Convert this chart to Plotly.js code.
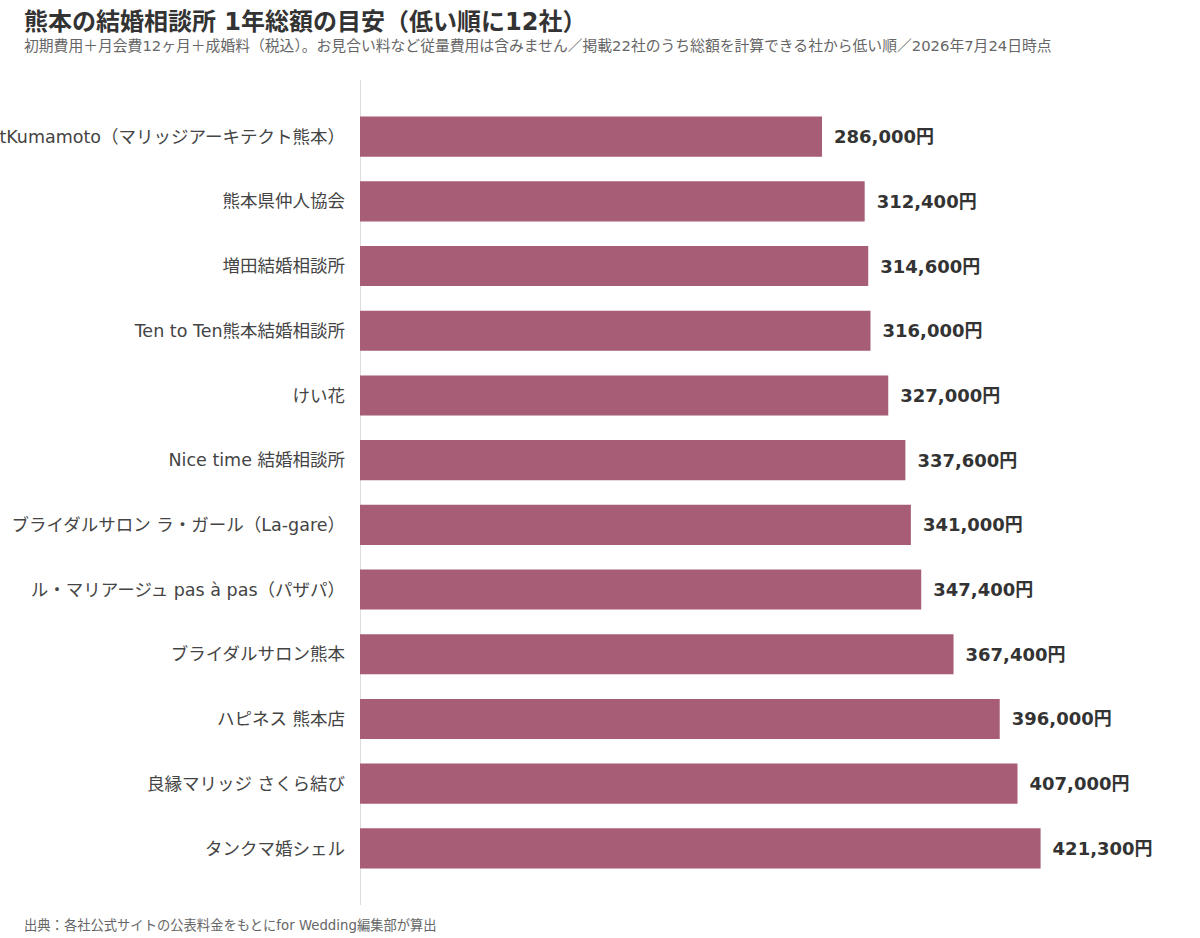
<!DOCTYPE html>
<html>
<head>
<meta charset="utf-8">
<script src="https://cdn.plot.ly/plotly-3.0.1.min.js"></script>
<style>
  html, body { margin: 0; padding: 0; background: #fff; }
  #chart { width: 1200px; height: 938px; }
</style>
</head>
<body>
<div id="chart"></div>
<script type="text/javascript">

    /* * Data - 1年総額（低い順） * */
    var agency_names = [
        'MarriageArchitectKumamoto（マリッジアーキテクト熊本）',
        '熊本県仲人協会',
        '増田結婚相談所',
        'Ten to Ten熊本結婚相談所',
        'けい花',
        'Nice time 結婚相談所',
        'ブライダルサロン ラ・ガール（La-gare）',
        'ル・マリアージュ pas à pas（パザパ）',
        'ブライダルサロン熊本',
        'ハピネス 熊本店',
        '良縁マリッジ さくら結び',
        'タンクマ婚シェル'
    ];
    var total_yen = [286000, 312400, 314600, 316000, 327000, 337600, 341000, 347400, 367400, 396000, 407000, 421300];

    var chart_container = document.getElementById('chart');
    var font_jp = '"DejaVu Sans", "Noto Sans CJK JP", sans-serif';
    var bar_color = '#a65d75';

    // en space in front so the label sits a little off the bar end
    var label_text = total_yen.map(function (v) {
        return '\u2002' + v.toLocaleString('en-US') + '円';
    });

    var data = [{
        type: 'bar',
        orientation: 'h',
        x: total_yen,
        y: agency_names,
        width: 0.62,
        marker: { color: bar_color },
        text: label_text,
        textposition: 'outside',
        cliponaxis: false,
        textfont: { family: font_jp, size: 18, color: '#333333', weight: 700 },
        hoverinfo: 'none'
    }];

    var layout = {
        width: 1200,
        height: 938,
        margin: { l: 360, r: 25, t: 80, b: 33 },
        paper_bgcolor: '#ffffff',
        plot_bgcolor: '#ffffff',
        font: { family: font_jp, color: '#444444' },
        showlegend: false,
        xaxis: {
            range: [0, 504500],
            showgrid: false,
            showticklabels: false,
            zeroline: true,
            zerolinecolor: '#dddddd',
            zerolinewidth: 1,
            fixedrange: true
        },
        yaxis: {
            type: 'category',
            categoryorder: 'array',
            categoryarray: agency_names,
            range: [11.875, -0.875],
            showgrid: false,
            zeroline: false,
            ticks: '',
            ticklabelstandoff: 14,
            tickfont: { family: font_jp, size: 17.5, color: '#444444' },
            automargin: false,
            fixedrange: true
        },
        annotations: [
            {
                text: '熊本の結婚相談所 1年総額の目安（低い順に12社）',
                xref: 'paper', yref: 'paper', x: 0, y: 0,
                xanchor: 'left', yanchor: 'middle', showarrow: false,
                font: { family: font_jp, size: 24, color: '#333333', weight: 700 }
            },
            {
                text: '初期費用＋月会費12ヶ月＋成婚料（税込）。お見合い料など従量費用は含みません／掲載22社のうち総額を計算できる社から低い順／2026年7月24日時点',
                xref: 'paper', yref: 'paper', x: 0, y: 0,
                xanchor: 'left', yanchor: 'middle', showarrow: false,
                font: { family: font_jp, size: 14.8, color: '#666666' }
            },
            {
                text: '出典：各社公式サイトの公表料金をもとにfor Wedding編集部が算出',
                xref: 'paper', yref: 'paper', x: 0, y: 0,
                xanchor: 'left', yanchor: 'middle', showarrow: false,
                font: { family: font_jp, size: 13.3, color: '#666666' }
            }
        ]
    };

    /* * Header/footer positions in pixels -> paper coords * */
    var plot_h = 938 - 80 - 33;
    var plot_w = 1200 - 360 - 25;
    function px_to_paper_x(px) { return (px - 360) / plot_w; }
    function px_to_paper_y(py) { return (938 - 33 - py) / plot_h; }
    layout.annotations[0].x = px_to_paper_x(22);
    layout.annotations[0].y = px_to_paper_y(22);
    layout.annotations[1].x = px_to_paper_x(22);
    layout.annotations[1].y = px_to_paper_y(46);
    layout.annotations[2].x = px_to_paper_x(22);
    layout.annotations[2].y = px_to_paper_y(925);

    Plotly.newPlot(chart_container, data, layout, { displayModeBar: false, staticPlot: true });

</script>
</body>
</html>
